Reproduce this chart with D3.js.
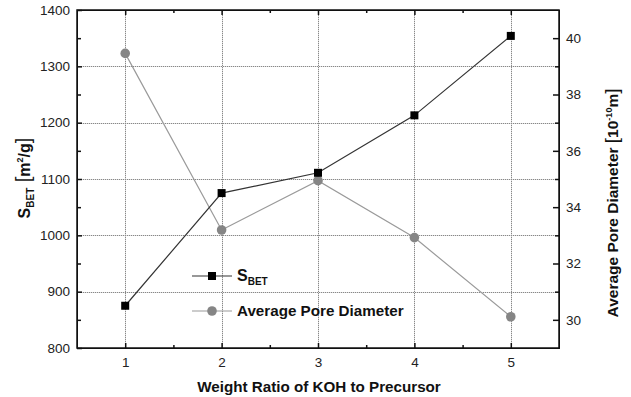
<!DOCTYPE html>
<html lang="en">
<head>
    <meta charset="UTF-8">
    <title>S_BET and Average Pore Diameter vs KOH Ratio</title>
    <script src="https://d3js.org/d3.v7.min.js"></script>
    <style>
        body { margin: 0; background: #fff; }
        svg { font-family: "Liberation Sans", Arial, sans-serif; display: block; }
        .tick text { font-size: 13.5px; fill: #222; }
        .axis path, .axis line { stroke: #111; }
        .title { font-weight: bold; fill: #111; }
    </style>
</head>
<body>
<svg width="631" height="397"></svg>
<script>
    // values
    let ratios = [1, 2, 3, 4, 5];
    let sBet = [875, 1075, 1111, 1213, 1354];
    let poreDiameter = [39.46, 33.19, 34.94, 32.92, 30.11];

    let xTicks = [1, 2, 3, 4, 5];
    let xMinor = [1.5, 2.5, 3.5, 4.5];
    let leftTicks = [800, 900, 1000, 1100, 1200, 1300, 1400];
    let leftMinor = [850, 950, 1050, 1150, 1250, 1350];
    let rightTicks = [30, 32, 34, 36, 38, 40];
    let rightMinor = [31, 33, 35, 37, 39];

    let width = 631, height = 397;
    let margin = { top: 10, right: 72, bottom: 49, left: 77 };

    let svg = d3.select("svg")
        .attr("width", width)
        .attr("height", height);

    let x = d3.scaleLinear().domain([0.5, 5.5]).range([margin.left, width - margin.right]);
    let yL = d3.scaleLinear().domain([800, 1400]).range([height - margin.bottom, margin.top]);
    let yR = d3.scaleLinear().domain([29, 41]).range([height - margin.bottom, margin.top]);

    let x0 = margin.left, x1 = width - margin.right;
    let y0 = height - margin.bottom, y1 = margin.top;

    // dotted grid: a faint solid base with dots on top
    function drawGrid(color, dash) {
        let g = svg.append("g");
        g.selectAll(".gy").data(leftTicks.slice(1, -1)).join("line").attr("class", "gy")
            .attr("x1", x0).attr("x2", x1)
            .attr("y1", d => Math.round(yL(d)) + 0.5).attr("y2", d => Math.round(yL(d)) + 0.5);
        g.selectAll(".gx").data(xTicks).join("line").attr("class", "gx")
            .attr("x1", d => Math.round(x(d)) + 0.5).attr("x2", d => Math.round(x(d)) + 0.5)
            .attr("y1", y0).attr("y2", y1);
        g.selectAll("line").attr("stroke", color).attr("stroke-width", 1);
        if (dash) g.selectAll("line").attr("stroke-dasharray", dash);
    }
    drawGrid("#dddddd", null);
    drawGrid("#888888", "1 1");

    // axes with inward ticks
    svg.append("g").attr("class", "axis")
        .attr("transform", `translate(0, ${y0})`)
        .call(d3.axisBottom(x).tickValues(xTicks).tickFormat(d3.format("d"))
            .tickSizeInner(-5).tickSizeOuter(0).tickPadding(9));
    svg.append("g").attr("class", "axis")
        .attr("transform", `translate(0, ${y0})`)
        .call(d3.axisBottom(x).tickValues(xMinor).tickFormat("").tickSizeInner(-3).tickSizeOuter(0));
    svg.append("g").attr("class", "axis")
        .attr("transform", `translate(0, ${y1})`)
        .call(d3.axisTop(x).tickValues(xTicks).tickFormat("").tickSizeInner(-5).tickSizeOuter(0));
    svg.append("g").attr("class", "axis")
        .attr("transform", `translate(0, ${y1})`)
        .call(d3.axisTop(x).tickValues(xMinor).tickFormat("").tickSizeInner(-3).tickSizeOuter(0));

    svg.append("g").attr("class", "axis")
        .attr("transform", `translate(${x0}, 0)`)
        .call(d3.axisLeft(yL).tickValues(leftTicks).tickFormat(d3.format("d"))
            .tickSizeInner(-5).tickSizeOuter(0).tickPadding(7));
    svg.append("g").attr("class", "axis")
        .attr("transform", `translate(${x0}, 0)`)
        .call(d3.axisLeft(yL).tickValues(leftMinor).tickFormat("").tickSizeInner(-4).tickSizeOuter(0));

    svg.append("g").attr("class", "axis")
        .attr("transform", `translate(${x1}, 0)`)
        .call(d3.axisRight(yR).tickValues(rightTicks).tickFormat(d3.format("d"))
            .tickSizeInner(-6).tickSizeOuter(0).tickPadding(7));
    svg.append("g").attr("class", "axis")
        .attr("transform", `translate(${x1}, 0)`)
        .call(d3.axisRight(yR).tickValues(rightMinor).tickFormat("").tickSizeInner(-4).tickSizeOuter(0));

    svg.selectAll(".axis .tick line").attr("stroke-width", 1.5);

    // frame
    svg.append("rect")
        .attr("x", x0).attr("y", y1)
        .attr("width", x1 - x0).attr("height", y0 - y1)
        .attr("fill", "none").attr("stroke", "#111").attr("stroke-width", 1.5);

    // pore diameter series (right axis)
    let poreLine = d3.line().x((d, i) => x(ratios[i])).y(d => yR(d));
    svg.append("path").datum(poreDiameter)
        .attr("d", poreLine)
        .attr("fill", "none").attr("stroke", "#9a9a9a").attr("stroke-width", 1.2);
    svg.append("g").selectAll("circle").data(poreDiameter).join("circle")
        .attr("cx", (d, i) => x(ratios[i])).attr("cy", d => yR(d))
        .attr("r", 4.8).attr("fill", "#858585");

    // S_BET series (left axis)
    let betLine = d3.line().x((d, i) => x(ratios[i])).y(d => yL(d));
    svg.append("path").datum(sBet)
        .attr("d", betLine)
        .attr("fill", "none").attr("stroke", "#333").attr("stroke-width", 1.2);
    svg.append("g").selectAll("rect").data(sBet).join("rect")
        .attr("x", (d, i) => x(ratios[i]) - 4).attr("y", d => yL(d) - 4)
        .attr("width", 8).attr("height", 8).attr("fill", "#000");

    // legend
    let legend = svg.append("g").attr("transform", "translate(192, 276)");
    legend.append("line").attr("x1", 0).attr("x2", 40).attr("y1", 0).attr("y2", 0)
        .attr("stroke", "#333").attr("stroke-width", 1.2);
    legend.append("rect").attr("x", 16).attr("y", -4).attr("width", 8).attr("height", 8).attr("fill", "#000");
    let l1 = legend.append("text").attr("class", "title").attr("x", 45).attr("y", 5)
        .style("font-size", "16px");
    l1.append("tspan").text("S");
    l1.append("tspan").attr("dy", 4).style("font-size", "10px").text("BET");

    legend.append("line").attr("x1", 0).attr("x2", 40).attr("y1", 35).attr("y2", 35)
        .attr("stroke", "#9a9a9a").attr("stroke-width", 1.2);
    legend.append("circle").attr("cx", 20).attr("cy", 35).attr("r", 4.8).attr("fill", "#858585");
    legend.append("text").attr("class", "title").attr("x", 45).attr("y", 40)
        .style("font-size", "15.2px").text("Average Pore Diameter");

    // axis titles
    svg.append("text").attr("class", "title")
        .attr("x", (x0 + x1) / 2 + 1).attr("y", 392)
        .attr("text-anchor", "middle").style("font-size", "15.2px")
        .text("Weight Ratio of KOH to Precursor");

    let lt = svg.append("text").attr("class", "title")
        .attr("transform", "translate(30, 178) rotate(-90)")
        .attr("text-anchor", "middle").style("font-size", "16px");
    lt.append("tspan").text("S");
    lt.append("tspan").attr("dy", 4).style("font-size", "10px").text("BET");
    lt.append("tspan").attr("dy", -4).style("font-size", "20px").style("font-weight", "normal").text(" [");
    lt.append("tspan").text("m");
    lt.append("tspan").attr("dy", -7).style("font-size", "9px").text("2");
    lt.append("tspan").attr("dy", 7).text("/g");
    lt.append("tspan").style("font-size", "20px").style("font-weight", "normal").text("]");

    let rt = svg.append("text").attr("class", "title")
        .attr("transform", "translate(618, 203) rotate(-90)")
        .attr("text-anchor", "middle").style("font-size", "15.5px");
    rt.append("tspan").text("Average Pore Diameter ");
    rt.append("tspan").style("font-size", "19px").style("font-weight", "normal").text(" [");
    rt.append("tspan").text("10");
    rt.append("tspan").attr("dy", -6).style("font-size", "9px").text("-10");
    rt.append("tspan").attr("dy", 6).text("m");
    rt.append("tspan").style("font-size", "19px").style("font-weight", "normal").text("]");
</script>
</body>
</html>
